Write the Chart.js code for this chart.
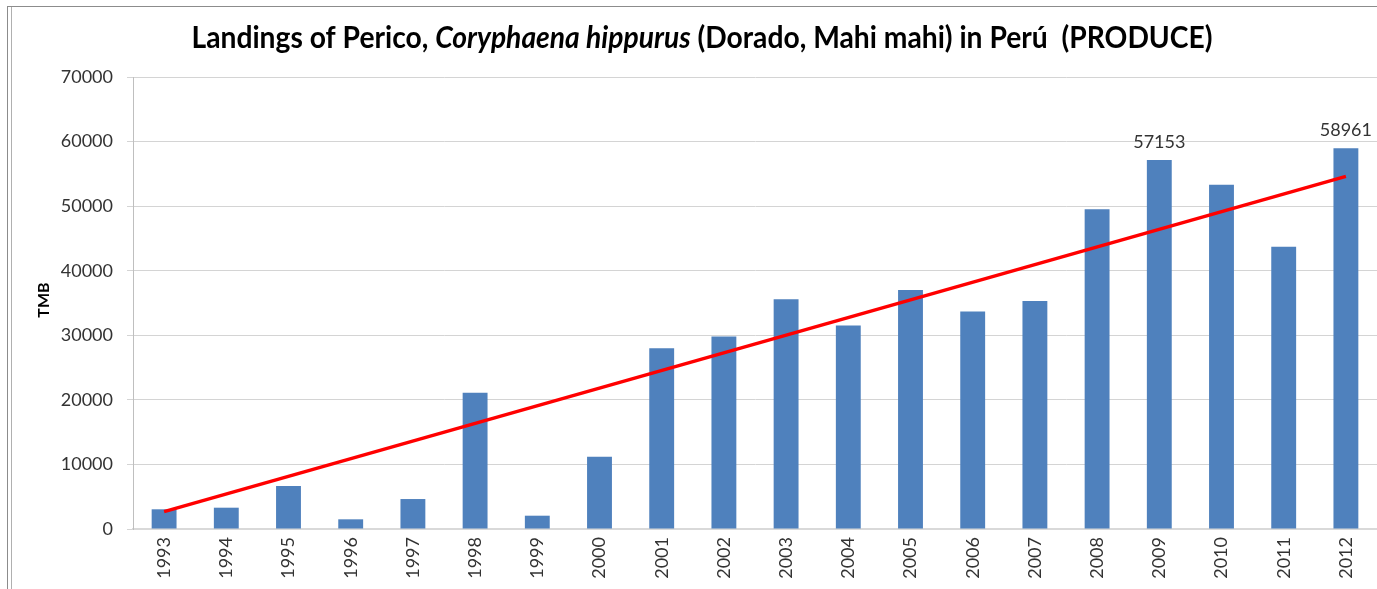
<!DOCTYPE html>
<html>
<head>
<meta charset="utf-8">
<script src="https://cdn.jsdelivr.net/npm/chart.js@4.4.1/dist/chart.umd.min.js"></script>
<style>
  html, body { margin: 0; padding: 0; background: #ffffff; overflow: hidden; }
  #wrap { position: relative; width: 1377px; height: 589px; }
  .frame1 { position: absolute; left: 7px; top: 6px; width: 1400px; height: 600px; border-left: 1px solid #8c8c8c; border-top: 1px solid #8c8c8c; }
  .frame2 { position: absolute; left: 11px; top: 7px; width: 1px; height: 600px; background: #b0b0b0; }
  canvas { position: absolute; left: 0; top: 0; }
</style>
</head>
<body>
<div id="wrap">
  <div class="frame1"></div>
  <div class="frame2"></div>
  <canvas id="c" width="1377" height="589"></canvas>
</div>
<script>
// ---- Data ----
const years = ['1993','1994','1995','1996','1997','1998','1999','2000','2001','2002',
               '2003','2004','2005','2006','2007','2008','2009','2010','2011','2012'];
const landings = [3050, 3300, 6650, 1500, 4640, 21100, 2060, 11200, 28000, 29800,
                  35600, 31500, 37000, 33700, 35300, 49500, 57153, 53300, 43700, 58961];
// trend line: value at first year and at last year
const trendStart = 2700;
const trendEnd = 54600;
const labelledYears = ['2009', '2012'];
const yMin = 0, yMax = 70000, yStep = 10000;
const titleParts = [
  { text: 'Landings of Perico, ', italic: false },
  { text: 'Coryphaena hippurus', italic: true },
  { text: ' (Dorado, Mahi mahi) in Perú  (PRODUCE)', italic: false }
];
const yAxisTitle = 'TMB';

// trend dataset: only its two ends are given; the library joins them
const trendData = years.map((y, i) => i === 0 ? trendStart : (i === years.length - 1 ? trendEnd : null));

const FONT = 'Lato, "Open Sans", "DejaVu Sans", sans-serif';
const TEXT_COLOR = '#333333';

const decorPlugin = {
  id: 'decor',
  afterDraw(chart) {
    const ctx = chart.ctx;
    // Title with mixed italic
    ctx.save();
    const size = 30;
    const fonts = titleParts.map(p => (p.italic ? 'italic ' : '') + 'bold ' + size + 'px ' + FONT);
    let total = 0;
    const widths = titleParts.map((p, i) => { ctx.font = fonts[i]; const w = ctx.measureText(p.text).width; total += w; return w; });
    const targetW = 1021;
    const sx = targetW / total;
    const cx = 702, baseY = 48;
    ctx.translate(cx - targetW / 2, baseY);
    ctx.scale(sx, 1);
    ctx.fillStyle = '#000000';
    ctx.textBaseline = 'alphabetic';
    ctx.textAlign = 'left';
    let x = 0;
    titleParts.forEach((p, i) => { ctx.font = fonts[i]; ctx.fillText(p.text, x, 0); x += widths[i]; });
    ctx.restore();

    // Y axis title
    ctx.save();
    ctx.translate(44, 300);
    ctx.rotate(-Math.PI / 2);
    ctx.font = 'bold 16px ' + FONT;
    ctx.fillStyle = '#000000';
    ctx.textAlign = 'center';
    ctx.textBaseline = 'middle';
    ctx.fillText(yAxisTitle, 0, 0);
    ctx.restore();
  },
  afterDatasetsDraw(chart) {
    const ctx = chart.ctx;
    const meta = chart.getDatasetMeta(1);
    ctx.save();
    ctx.font = '18px ' + FONT;
    ctx.fillStyle = TEXT_COLOR;
    ctx.textAlign = 'center';
    ctx.textBaseline = 'middle';
    meta.data.forEach((bar, i) => {
      if (labelledYears.includes(years[i])) {
        ctx.fillText(String(landings[i]), bar.x, bar.y - 18);
      }
    });
    ctx.restore();
  }
};

function build() {
  new Chart(document.getElementById('c'), {
    type: 'bar',
    data: {
      labels: years,
      datasets: [
        {
          type: 'line',
          data: trendData,
          borderColor: '#ff0000',
          borderWidth: 3.5,
          pointRadius: 0,
          spanGaps: true,
          fill: false,
          order: 0
        },
        {
          type: 'bar',
          data: landings,
          backgroundColor: '#4f81bd',
          barPercentage: 0.4,
          categoryPercentage: 1.0,
          order: 1
        }
      ]
    },
    options: {
      responsive: false,
      devicePixelRatio: 1,
      animation: false,
      layout: { padding: { top: 77, right: 0, left: 0, bottom: 0 } },
      plugins: { legend: { display: false }, tooltip: { enabled: false }, title: { display: false } },
      scales: {
        x: {
          afterFit(s) { s.height = 60; },
          grid: { display: true, drawOnChartArea: false, drawTicks: false },
          border: { display: true, color: '#d9d9d9', width: 2 },
          ticks: {
            minRotation: 90, maxRotation: 90, autoSkip: false, padding: 8,
            color: TEXT_COLOR, font: { family: FONT, size: 18 }
          }
        },
        y: {
          min: yMin, max: yMax,
          afterFit(s) { s.width = 133; },
          grid: { color: '#d4d4d4', lineWidth: 1, tickLength: 6, drawTicks: true },
          border: { display: true, color: '#bfbfbf', width: 1 },
          ticks: {
            stepSize: yStep, padding: 14, color: TEXT_COLOR,
            font: { family: FONT, size: 18 },
            callback: v => String(v)
          }
        }
      }
    },
    plugins: [decorPlugin]
  });
}

const loads = ['bold 30px Lato', 'italic bold 30px Lato', '18px Lato', 'bold 16px Lato'].map(f => document.fonts.load(f).catch(() => null));
Promise.all(loads).then(build, build);
</script>
</body>
</html>
